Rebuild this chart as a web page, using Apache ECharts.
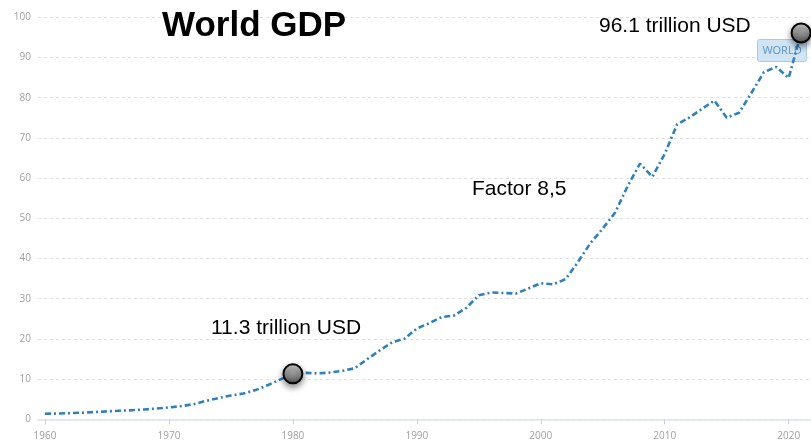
<!DOCTYPE html>
<html>
<head>
<meta charset="utf-8">
<script src="https://cdn.jsdelivr.net/npm/echarts@6/dist/echarts.min.js"></script>
<style>
  html, body { margin: 0; padding: 0; background: #fff; }
  #chart { width: 811px; height: 442px; }
</style>
</head>
<body>
<div id="chart"></div>
<script>
// World GDP, current USD, trillions
const years = [
  1960, 1961, 1962, 1963, 1964, 1965, 1966, 1967, 1968, 1969,
  1970, 1971, 1972, 1973, 1974, 1975, 1976, 1977, 1978, 1979,
  1980, 1981, 1982, 1983, 1984, 1985, 1986, 1987, 1988, 1989,
  1990, 1991, 1992, 1993, 1994, 1995, 1996, 1997, 1998, 1999,
  2000, 2001, 2002, 2003, 2004, 2005, 2006, 2007, 2008, 2009,
  2010, 2011, 2012, 2013, 2014, 2015, 2016, 2017, 2018, 2019,
  2020, 2021
];
const gdp = [
  1.38, 1.43, 1.53, 1.64, 1.80, 1.96, 2.13, 2.26, 2.44, 2.69,
  2.96, 3.27, 3.77, 4.59, 5.30, 5.90, 6.42, 7.26, 8.54, 9.93,
  11.3, 11.56, 11.41, 11.63, 12.06, 12.70, 14.98, 17.11, 19.14, 20.04,
  22.59, 23.90, 25.44, 25.81, 27.75, 30.86, 31.54, 31.41, 31.28, 32.54,
  33.83, 33.58, 34.86, 39.13, 43.81, 47.46, 51.43, 57.96, 63.61, 60.33,
  66.05, 73.37, 75.09, 77.21, 79.30, 75.04, 76.26, 81.23, 86.35, 87.65,
  84.91, 96.1
];
// Highlighted years
const markedYears = [1980, 2021];
const xTickLabels = [1960, 1970, 1980, 1990, 2000, 2010, 2020];
const seriesName = 'WORLD';

const lineData = years.map((y, i) => [y, gdp[i]]);
const markedData = markedYears.map(y => [y, gdp[years.indexOf(y)]]);

const chart = echarts.init(document.getElementById('chart'), null, { renderer: 'canvas' });

const labelFont = 'Liberation Sans, Arial, sans-serif';

chart.setOption({
  animation: false,
  backgroundColor: '#ffffff',
  grid: { left: 38, right: 0, top: 17.3, bottom: 22.7, containLabel: false },
  xAxis: {
    type: 'value',
    min: 1959.435,
    max: 2021.8,
    axisLine: { show: true, lineStyle: { color: '#dde3ec', width: 1.5 } },
    axisTick: {
      show: true,
      customValues: xTickLabels,
      length: 5,
      lineStyle: { color: '#cfcfcf' }
    },
    axisLabel: {
      customValues: xTickLabels,
      formatter: v => String(Math.round(v)),
      color: '#a0a0a0',
      fontFamily: 'Open Sans, sans-serif',
      fontSize: 10,
      margin: 12
    },
    splitLine: { show: false }
  },
  yAxis: {
    type: 'value',
    min: 0,
    max: 100,
    interval: 10,
    axisLine: { show: false },
    axisTick: { show: false },
    axisLabel: {
      color: '#a0a0a0',
      fontFamily: 'Open Sans, sans-serif',
      fontSize: 10,
      margin: 7
    },
    splitLine: { lineStyle: { color: '#e2e2e2', type: [3, 3], width: 1 } }
  },
  series: [
    {
      name: seriesName,
      type: 'line',
      data: lineData,
      showSymbol: false,
      symbol: 'none',
      z: 2,
      lineStyle: {
        color: '#3180bc',
        width: 2.6,
        type: [6, 3, 2, 3]
      }
    },
    {
      type: 'scatter',
      data: markedData,
      symbolSize: 19,
      z: 5,
      itemStyle: {
        color: {
          type: 'linear', x: 0, y: 0, x2: 0, y2: 1,
          colorStops: [
            { offset: 0, color: '#d2d2d2' },
            { offset: 0.45, color: '#9c9c9c' },
            { offset: 1, color: '#4e4e4e' }
          ]
        },
        borderColor: '#000000',
        borderWidth: 2,
        shadowBlur: 6,
        shadowOffsetY: 3,
        shadowColor: 'rgba(0,0,0,0.45)',
        opacity: 1
      }
    }
  ],
  graphic: [
    {
      type: 'text', left: 162, top: 9, z: 10,
      style: { text: 'World GDP', font: 'bold 35px ' + labelFont, fill: '#000' }
    },
    {
      type: 'text', left: 599, top: 16, z: 10,
      style: { text: '96.1 trillion USD', font: '21px ' + labelFont, fill: '#000' }
    },
    {
      type: 'text', left: 211, top: 318, z: 10,
      style: { text: '11.3 trillion USD', font: '21px ' + labelFont, fill: '#000' }
    },
    {
      type: 'text', left: 472, top: 179, z: 10,
      style: { text: 'Factor 8,5', font: '21px ' + labelFont, fill: '#000' }
    },
    {
      type: 'group', left: 757, top: 39, z: 20,
      children: [
        {
          type: 'rect',
          shape: { x: 0, y: 0, width: 49, height: 22, r: 2 },
          style: { fill: 'rgba(170,205,235,0.55)', stroke: '#a9cbe8', lineWidth: 1 }
        },
        {
          type: 'text', x: 24.5, y: 11,
          style: {
            text: seriesName, font: '11px Open Sans, sans-serif', fill: '#5a92c4',
            align: 'center', verticalAlign: 'middle'
          }
        }
      ]
    }
  ]
});
</script>
</body>
</html>
